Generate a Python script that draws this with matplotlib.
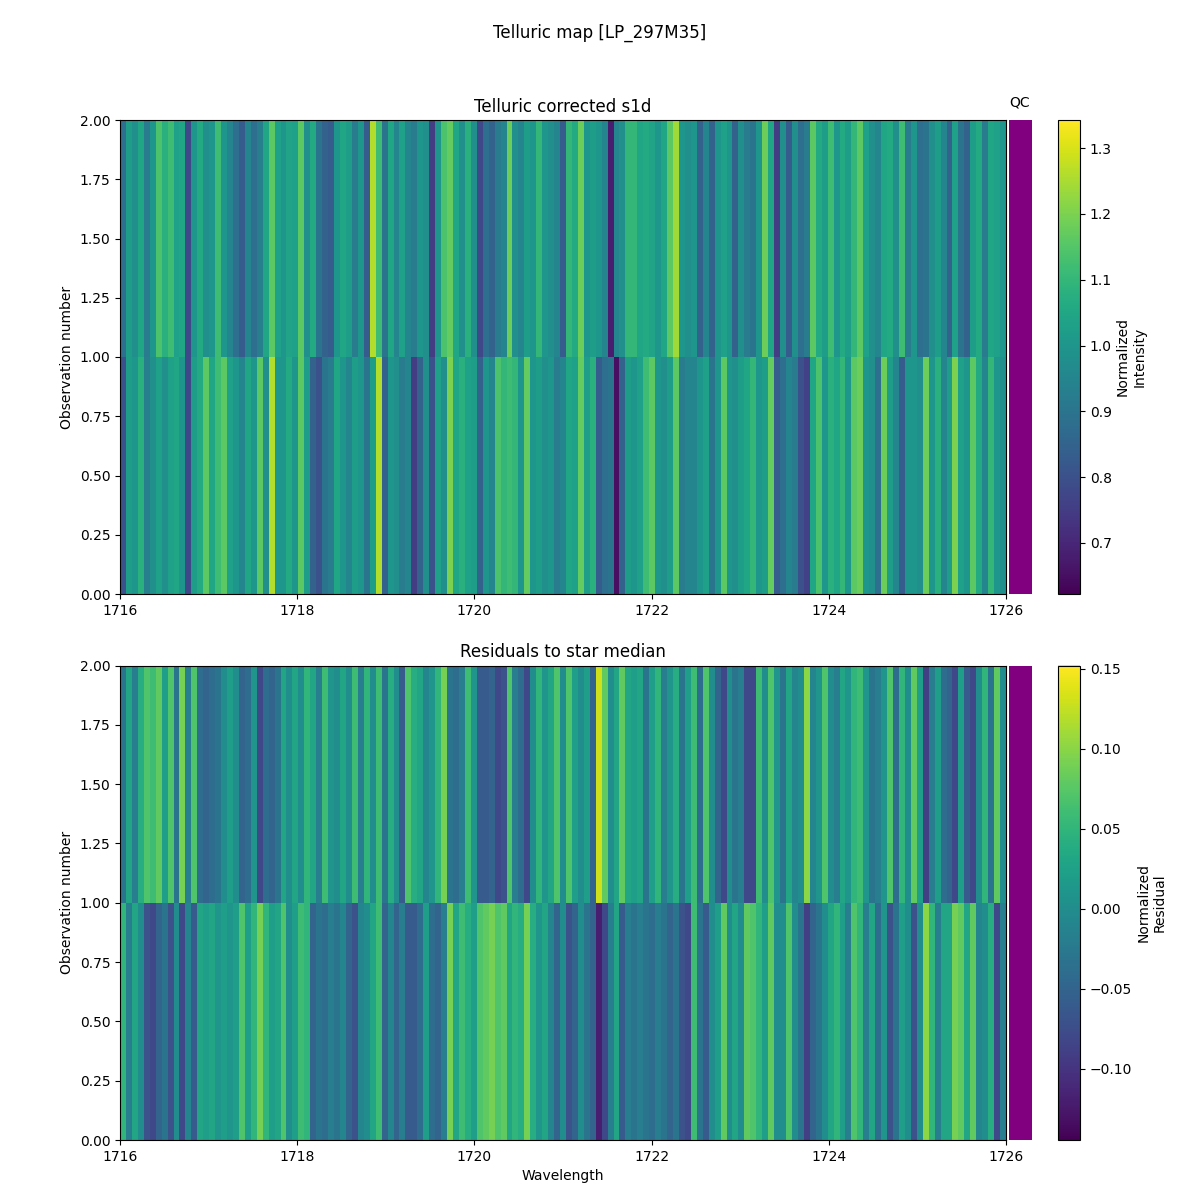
import matplotlib
matplotlib.use("Agg")
import matplotlib.pyplot as plt
import numpy as np
from matplotlib.colors import ListedColormap

# values, one list per observation
intensity_obs1 = [
    0.8, 1.02, 1.0, 1.08, 0.93, 0.98, 1.03, 0.98, 1.03, 1.05, 1.0, 0.78, 1.02, 1.06, 1.16, 1.05, 1.12,
    1.16, 1.03, 1.0, 0.95, 1.05, 1.0, 1.16, 0.98, 1.26, 1.0, 1.0, 1.06, 1.0, 1.16, 1.02, 0.85, 0.8, 0.9,
    0.92, 1.05, 1.0, 0.95, 1.02, 1.0, 0.9, 1.02, 1.26, 0.85, 1.0, 0.98, 0.92, 0.95,
    0.75, 0.85, 0.98, 0.8, 1.03, 0.98, 1.2, 1.05, 1.08, 1.03, 1.02, 0.85, 1.0, 0.95, 1.14, 1.1, 1.12,
    1.1, 1.0, 1.17, 1.0, 1.02, 0.98, 1.0, 0.92, 0.95, 1.05, 1.03, 1.17, 1.02, 1.08, 0.83, 0.88, 0.9,
    0.65, 0.85, 1.02, 1.0, 1.03, 1.12, 1.16, 1.0, 0.98, 1.02, 1.16, 0.92, 0.95, 0.95, 1.0, 1.03,
    0.9, 1.0, 1.16, 1.0, 0.98, 1.02, 1.05, 1.1, 1.0, 1.02, 1.17, 0.83, 0.88, 0.95, 0.92, 0.8, 0.76,
    1.05, 1.14, 1.0, 1.08, 1.05, 1.1, 1.0, 1.16, 1.18, 1.0, 0.98, 0.88, 1.18, 1.02, 0.95, 0.83, 1.0,
    1.0, 0.98, 1.18, 1.0, 1.08, 0.95, 1.02, 1.2, 1.03, 1.0, 1.16, 1.06, 0.95, 1.1, 1.0, 0.98,
]
intensity_obs2 = [
    0.88, 1.02, 0.98, 1.05, 0.92, 1.0, 1.14, 1.08, 1.12, 1.03, 1.05, 0.78, 1.0, 1.06, 0.98, 1.0, 1.12,
    1.0, 0.95, 0.88, 0.83, 0.95, 0.88, 0.93, 1.05, 1.16, 1.03, 1.0, 1.04, 1.03, 1.16, 0.98, 1.06, 0.9,
    0.85, 0.83, 1.0, 1.05, 1.02, 0.92, 1.0, 0.83, 1.26, 1.12, 0.9, 1.05, 0.95, 1.03, 0.95,
    0.92, 1.0, 0.98, 0.75, 1.0, 1.14, 1.17, 1.05, 0.98, 1.08, 0.98, 0.78, 0.88, 0.85, 0.92, 0.95, 1.18,
    0.98, 0.95, 1.02, 1.0, 1.1, 1.0, 0.98, 0.95, 0.83, 1.1, 1.06, 1.18, 1.0, 1.02, 1.0, 0.95, 0.68,
    0.95, 0.98, 1.1, 1.1, 1.05, 1.06, 1.04, 1.0, 1.05, 1.16, 1.24, 1.0, 0.98, 1.0, 0.85, 0.95,
    0.85, 1.0, 1.03, 1.0, 0.85, 0.98, 0.92, 0.9, 1.0, 1.18, 1.05, 0.75, 0.98, 0.83, 0.98, 0.88, 0.92,
    1.16, 1.06, 1.02, 1.12, 1.0, 1.06, 1.02, 1.1, 1.16, 1.03, 0.98, 0.95, 1.05, 1.06, 0.98, 1.12, 0.92,
    1.0, 0.88, 0.9, 0.98, 1.02, 0.95, 0.85, 1.03, 0.9, 0.85, 1.02, 1.06, 0.92, 1.05, 1.03, 1.0,
]
residual_obs1 = [
    0.05, -0.02, 0.03, 0.0, -0.07, -0.08, -0.05, -0.03, -0.07, 0.0, -0.08, -0.01, -0.06, 0.03, 0.02, 0.03,
    0.01, 0.02, 0.01, 0.02, 0.07, 0.02, 0.05, 0.09, 0.05, 0.02, 0.03, 0.07, 0.0, 0.02, 0.06, 0.05, -0.05,
    -0.03, -0.04, -0.02, -0.03, -0.01, -0.05, -0.07, -0.01, 0.0, 0.03, 0.06, -0.05, -0.01, -0.05, -0.02, -0.06,
    -0.06, -0.04, 0.02, -0.04, -0.05, -0.02, 0.09, 0.03, 0.06, 0.04, 0.02, 0.07, 0.08, 0.09, 0.07, 0.08, 0.03,
    0.05, 0.04, 0.09, 0.04, 0.01, 0.03, -0.01, -0.05, 0.0, -0.07, -0.05, 0.0, -0.03, -0.05, -0.12, -0.08, -0.02,
    0.03, -0.06, -0.02, -0.03, -0.02, -0.03, -0.04, -0.02, -0.03, -0.05, -0.03, -0.07, -0.08, 0.06, -0.03, -0.06,
    0.0, 0.02, 0.08, 0.0, 0.03, 0.0, 0.08, 0.07, 0.05, 0.02, 0.08, 0.0, 0.0, 0.07, 0.0, -0.03, -0.09,
    -0.05, -0.03, 0.0, 0.03, 0.05, 0.02, -0.02, 0.07, 0.05, -0.02, 0.03, -0.04, 0.01, -0.07, -0.03, 0.02,
    0.0, -0.07, 0.0, 0.1, 0.05, -0.02, 0.03, 0.03, 0.09, 0.08, 0.03, 0.08, -0.01, 0.0, 0.04, -0.08, -0.02,
]
residual_obs2 = [
    -0.03, 0.03, -0.02, 0.04, 0.07, 0.06, 0.08, 0.02, 0.07, -0.03, 0.09, -0.02, 0.07, -0.04, -0.05, -0.04,
    -0.03, 0.0, 0.02, 0.0, -0.05, -0.04, 0.01, -0.08, -0.04, -0.05, -0.03, 0.03, 0.0, 0.03, 0.0, 0.05, 0.03,
    -0.02, 0.06, 0.01, 0.0, 0.03, 0.0, 0.06, -0.02, 0.05, 0.0, 0.06, -0.03, 0.04, 0.0, -0.06, 0.07,
    0.04, 0.03, -0.01, 0.01, 0.05, 0.09, -0.03, -0.04, -0.02, 0.06, 0.01, -0.06, -0.06, -0.05, -0.08, -0.07, 0.07,
    -0.02, -0.04, -0.08, 0.0, 0.05, 0.01, 0.03, 0.07, 0.0, 0.07, 0.02, 0.0, 0.02, -0.05, 0.13, 0.08, 0.0,
    0.03, 0.08, 0.03, 0.02, 0.03, -0.03, 0.02, 0.05, -0.02, 0.01, 0.04, -0.03, 0.02, 0.06, -0.04, 0.07,
    0.0, -0.05, -0.08, 0.0, -0.03, -0.02, -0.08, -0.08, 0.06, 0.0, 0.07, 0.01, -0.03, 0.03, -0.01, 0.0, 0.1,
    -0.01, 0.01, 0.07, 0.0, -0.02, 0.03, 0.01, 0.05, 0.06, 0.01, -0.03, -0.02, 0.01, 0.07, -0.04, 0.05,
    0.0, 0.08, 0.02, -0.09, -0.02, 0.02, -0.04, -0.05, -0.08, 0.02, -0.06, -0.08, 0.0, 0.05, -0.03, 0.08, 0.0,
]
wave_min, wave_max = 1716, 1726
intensity_range = (0.6225, 1.3426)
residual_range = (-0.1444, 0.1519)

W, H = 1200, 1200


def px_axes(fig, x0, y0, x1, y1):
    return fig.add_axes([x0 / W, 1 - y1 / H, (x1 - x0) / W, (y1 - y0) / H])


def draw_panel(fig, y0, y1, rows, vrange, title, cbar_label):
    ax = px_axes(fig, 120, y0, 1006, y1)
    data = np.array(rows)
    x_edges = np.linspace(wave_min, wave_max, data.shape[1] + 1)
    im = ax.pcolormesh(x_edges, [0, 1, 2], data, cmap="viridis", vmin=vrange[0], vmax=vrange[1])
    ax.set_xlim(wave_min, wave_max)
    ax.set_ylim(0, 2)
    ax.set_yticks(np.arange(0, 2.01, 0.25))
    ax.set_ylabel("Observation number")
    ax.set_title(title)

    # QC strip next to the map
    qc = px_axes(fig, 1009, y0, 1032, y1)
    qc.pcolormesh([0, 1], [0, 1, 2], [[0], [0]], cmap=ListedColormap(["purple"]))
    qc.axis("off")

    cax = px_axes(fig, 1058, y0, 1080, y1)
    cb = fig.colorbar(im, cax=cax)
    cb.set_label(cbar_label, labelpad=3)
    return ax, qc


fig = plt.figure(figsize=(12, 12), dpi=100)
fig.suptitle("Telluric map [LP_297M35]")

ax1, qc1 = draw_panel(fig, 120, 594, [intensity_obs1, intensity_obs2], intensity_range,
                      "Telluric corrected s1d", "Normalized\nIntensity")
ax2, qc2 = draw_panel(fig, 665.5, 1140, [residual_obs1, residual_obs2], residual_range,
                      "Residuals to star median", "Normalized\nResidual")
qc1.set_title("QC", fontsize=10, pad=10, x=0.45)
ax2.set_xlabel("Wavelength")

plt.savefig("out.png", dpi=100)
plt.close()
